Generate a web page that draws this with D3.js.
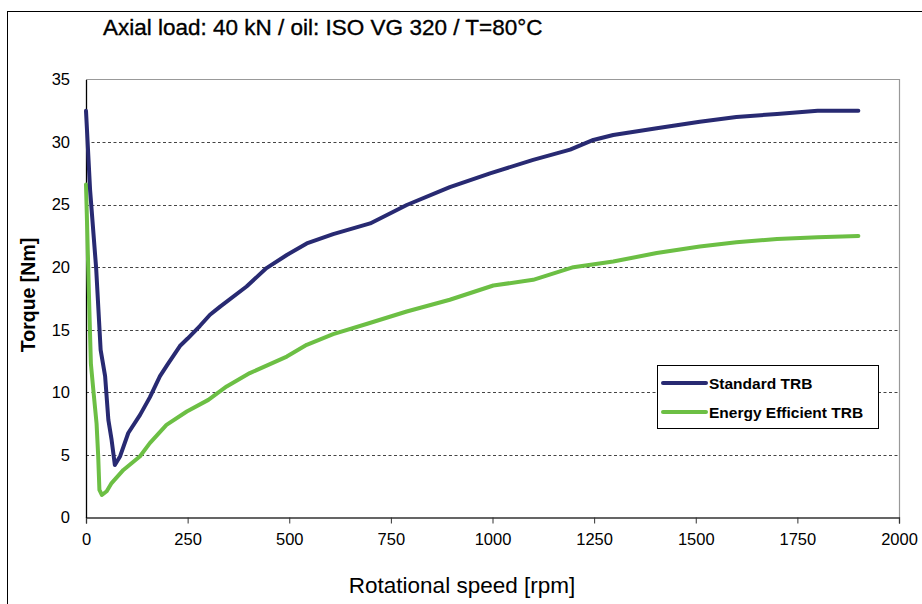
<!DOCTYPE html>
<html>
<head>
<meta charset="utf-8">
<script src="https://cdn.jsdelivr.net/npm/d3@7"></script>
<style>
  html, body { margin: 0; padding: 0; background: #fff; }
  svg { display: block; font-family: "Liberation Sans", Arial, sans-serif; }
</style>
</head>
<body>
<svg id="chart" width="922" height="604"></svg>
<script>
// ---- data ----
const title = "Axial load: 40 kN / oil: ISO VG 320 / T=80°C";
const xLabel = "Rotational speed [rpm]";
const yLabel = "Torque [Nm]";
const xTicks = [0, 250, 500, 750, 1000, 1250, 1500, 1750, 2000];
const yTicks = [0, 5, 10, 15, 20, 25, 30, 35];
const seriesNames = ["Standard TRB", "Energy Efficient TRB"];

const stdRpm = [0, 10, 25, 36, 47, 55, 63, 71, 84, 104, 133, 157, 182, 200, 231, 250, 280, 305, 330, 395, 444, 494, 543, 608, 699, 789, 895, 994, 1100, 1191, 1248, 1297, 1404, 1510, 1600, 1700, 1800, 1900];
const stdTorque = [32.5, 26.2, 19.9, 13.4, 11.3, 7.8, 6.2, 4.2, 4.9, 6.75, 8.2, 9.6, 11.3, 12.2, 13.7, 14.3, 15.3, 16.2, 16.85, 18.46, 19.93, 20.98, 21.9, 22.65, 23.5, 24.97, 26.4, 27.5, 28.58, 29.4, 30.17, 30.57, 31.1, 31.63, 32.0, 32.25, 32.5, 32.5];

const effRpm = [0, 3, 8, 12, 18, 26, 30, 33, 39, 51, 63, 92, 133, 157, 198, 248, 301, 346, 403, 494, 543, 608, 690, 789, 895, 1002, 1100, 1199, 1297, 1404, 1510, 1600, 1700, 1800, 1900];
const effTorque = [26.6, 23.0, 16.9, 12.3, 10.2, 7.5, 4.9, 2.2, 1.8, 2.1, 2.75, 3.8, 4.9, 5.94, 7.4, 8.47, 9.4, 10.47, 11.54, 12.86, 13.8, 14.66, 15.46, 16.46, 17.4, 18.54, 18.99, 20.0, 20.46, 21.13, 21.66, 22.0, 22.25, 22.4, 22.5];

const colors = ["#282a72", "#6cbf44"];

// ---- layout ----
const svg = d3.select("#chart");
const plot = { left: 86, right: 899, top: 79.5, bottom: 517.5 };

const x = d3.scaleLinear().domain([0, 2000]).range([plot.left, plot.right]);
const y = d3.scaleLinear().domain([0, 35]).range([plot.bottom, plot.top]);

// outer frame (extends past the window on right/bottom)
svg.append("rect")
  .attr("x", 7.5).attr("y", 11.5)
  .attr("width", 1000).attr("height", 1000)
  .attr("fill", "none").attr("stroke", "#000").attr("stroke-width", 1);

// title
svg.append("text")
  .attr("x", 103).attr("y", 35)
  .attr("font-size", 22.5)
  .attr("fill", "#000")
  .attr("stroke", "#000").attr("stroke-width", 0.35)
  .text(title);

// gridlines
svg.append("g")
  .selectAll("line")
  .data(yTicks.filter(d => d > 0 && d < 35))
  .join("line")
  .attr("x1", plot.left).attr("x2", plot.right)
  .attr("y1", d => Math.round(y(d)) + 0.5).attr("y2", d => Math.round(y(d)) + 0.5)
  .attr("stroke", "#444").attr("stroke-width", 1)
  .attr("stroke-dasharray", "3,2.5");

// plot frame top and right (gray)
svg.append("path")
  .attr("d", `M${plot.left},${plot.top}H${plot.right + 0.5}V${plot.bottom}`)
  .attr("fill", "none").attr("stroke", "#999").attr("stroke-width", 1.2);

// x axis
const xAxis = d3.axisBottom(x).tickValues(xTicks).tickSize(6).tickPadding(10).tickFormat(d3.format("d"));
const gx = svg.append("g").attr("transform", `translate(0,${plot.bottom})`).call(xAxis);
gx.select(".domain").attr("stroke", "#333").attr("stroke-width", 1.3);
gx.selectAll(".tick line").attr("stroke", "#333");
gx.selectAll("text").attr("font-size", 16.5).attr("fill", "#000").attr("font-family", "Liberation Sans, Arial, sans-serif");

// y axis
const yAxis = d3.axisLeft(y).tickValues(yTicks).tickSize(0).tickPadding(16).tickFormat(d3.format("d"));
const gy = svg.append("g").attr("transform", `translate(${plot.left},0)`).call(yAxis);
gy.select(".domain").attr("stroke", "#000").attr("stroke-width", 1.3);
gy.selectAll("text").attr("font-size", 16.5).attr("fill", "#000").attr("font-family", "Liberation Sans, Arial, sans-serif");

// axis labels
svg.append("text")
  .attr("x", 462).attr("y", 593)
  .attr("text-anchor", "middle")
  .attr("font-size", 22.5)
  .text(xLabel);

svg.append("text")
  .attr("transform", `translate(35,295) rotate(-90)`)
  .attr("text-anchor", "middle")
  .attr("font-size", 19.5)
  .attr("font-weight", "bold")
  .text(yLabel);

// lines
const line = d3.line().x(d => x(d[0])).y(d => y(d[1])).curve(d3.curveLinear);
const seriesData = [
  d3.zip(stdRpm, stdTorque),
  d3.zip(effRpm, effTorque)
];
// draw green first, then blue on top
[1, 0].forEach(i => {
  svg.append("path")
    .datum(seriesData[i])
    .attr("d", line)
    .attr("fill", "none")
    .attr("stroke", colors[i])
    .attr("stroke-width", 4)
    .attr("stroke-linejoin", "round")
    .attr("stroke-linecap", "round");
});

// legend
const lg = svg.append("g");
lg.append("rect")
  .attr("x", 657.5).attr("y", 365.5).attr("width", 221).attr("height", 63)
  .attr("fill", "#fff").attr("stroke", "#000").attr("stroke-width", 1);
seriesNames.forEach((name, i) => {
  const yy = 383 + i * 29;
  lg.append("line")
    .attr("x1", 663).attr("x2", 706).attr("y1", yy).attr("y2", yy)
    .attr("stroke", colors[i]).attr("stroke-width", 4).attr("stroke-linecap", "round");
  lg.append("text")
    .attr("x", 709).attr("y", yy + 5.5)
    .attr("font-size", 15.5)
    .attr("font-weight", "bold")
    .text(name);
});
</script>
</body>
</html>
